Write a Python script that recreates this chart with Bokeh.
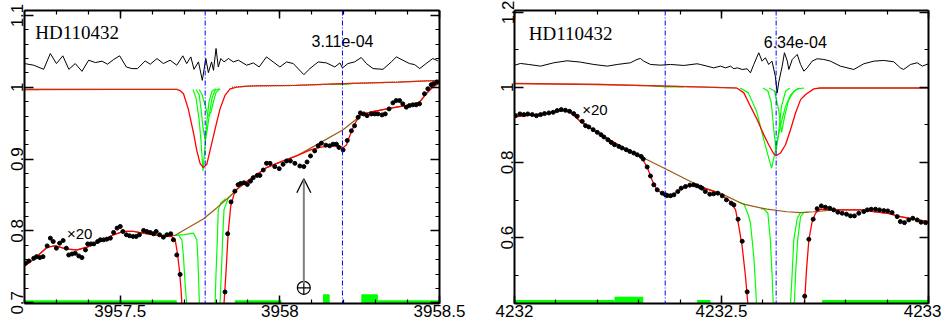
import numpy as np
from bokeh.plotting import figure
from bokeh.layouts import row
from bokeh.models import (Range1d, FixedTicker, LinearAxis, CustomJSTickFormatter,
                          Span, Arrow, OpenHead)
from bokeh.core.properties import value
from bokeh.embed import file_html
from bokeh.resources import INLINE

NAN = float("nan")

# ---------------- LEFT PANEL DATA (3957 A region) ----------------
L_xrange = (3957.2, 3958.5)
L_yrange = (0.699, 1.107)
L_xticks = [3957.5, 3958.0, 3958.5]
L_yticks = [0.7, 0.8, 0.9, 1.0, 1.1]
L_blue = [3957.766, 3958.196]

# residuals (black, top)
L_res_x = [3957.200, 3957.229, 3957.260, 3957.281, 3957.300, 3957.320, 3957.339, 3957.359, 3957.380, 3957.401,
           3957.422, 3957.443, 3957.460, 3957.479, 3957.498, 3957.519, 3957.536, 3957.554, 3957.578, 3957.594,
           3957.615, 3957.635, 3957.656, 3957.677, 3957.696, 3957.708, 3957.721, 3957.731, 3957.745, 3957.757,
           3957.768, 3957.776, 3957.786, 3957.792, 3957.800, 3957.807, 3957.815, 3957.825, 3957.839,
           3957.854, 3957.870, 3957.896, 3957.917, 3957.935, 3957.958, 3957.979, 3958.000, 3958.021, 3958.042,
           3958.057, 3958.075, 3958.094, 3958.120, 3958.146, 3958.172, 3958.188, 3958.196, 3958.213, 3958.234,
           3958.255, 3958.271, 3958.292, 3958.323, 3958.349, 3958.365, 3958.385, 3958.406, 3958.422, 3958.438,
           3958.458, 3958.479, 3958.495]
L_res_y = [1.0331, 1.0308, 1.0251, 1.0471, 1.0331, 1.0439, 1.0251, 1.0331, 1.0223, 1.0378,
           1.0345, 1.0364, 1.0322, 1.0387, 1.0439, 1.0284, 1.0261, 1.0261, 1.0368, 1.0322,
           1.0401, 1.0331, 1.0378, 1.0308, 1.0439, 1.0331, 1.0424, 1.0251, 1.0354, 1.0097,
           1.0401, 1.0205, 1.0354, 1.0237, 1.0541, 1.0284, 1.0401, 1.0354, 1.0401,
           1.0354, 1.0378, 1.0308, 1.0340, 1.0284, 1.0424, 1.0354, 1.0284, 1.0354, 1.0331,
           1.0261, 1.0177, 1.0261, 1.0354, 1.0340, 1.0284, 1.0340, 1.0270, 1.0331, 1.0354,
           1.0415, 1.0331, 1.0261, 1.0251, 1.0354, 1.0424, 1.0378, 1.0331, 1.0317, 1.0261,
           1.0331, 1.0401, 1.0368]

# upper model (red)
L_mod_x = [3957.200, 3957.500, 3957.677, 3957.6875, 3957.698, 3957.713, 3957.729, 3957.740, 3957.750, 3957.760,
           3957.771, 3957.781, 3957.797, 3957.8125, 3957.828, 3957.844, 3957.865, 3957.900, 3958.050, 3958.200,
           3958.370, 3958.500]
L_mod_y = [0.9970, 0.9972, 0.9973, 0.9955, 0.9910, 0.9700, 0.9373, 0.9115, 0.8942, 0.8882,
           0.8928, 0.9115, 0.9419, 0.9700, 0.9887, 0.9980, 1.0004, 1.0018, 1.0027, 1.0051,
           1.0074, 1.0097]
# upper continuum (brown dotted)
L_cont_top_x = [3957.200, 3957.500, 3957.680, NAN, 3957.850, 3957.900, 3958.050, 3958.200, 3958.370, 3958.500]
L_cont_top_y = [0.9970, 0.9972, 0.9973, NAN, 1.0001, 1.0018, 1.0027, 1.0051, 1.0074, 1.0097]

# upper components (green)
L_g1_x = [3957.728, 3957.7375, 3957.747, 3957.753, 3957.759, 3957.766, 3957.772, 3957.778, 3957.7875, 3957.800]
L_g1_y = [0.997, 0.985, 0.955, 0.925, 0.8835, 0.920, 0.955, 0.980, 0.995, 0.998]
L_g2_x = [3957.7375, 3957.747, 3957.753, 3957.759, 3957.766, 3957.772, 3957.780, 3957.7875, 3957.797, 3957.809]
L_g2_y = [0.997, 0.990, 0.970, 0.945, 0.926, 0.940, 0.965, 0.985, 0.996, 0.998]
L_g3_x = [3957.747, 3957.756, 3957.766, 3957.775, 3957.784, 3957.792, 3957.800, 3957.8125]
L_g3_y = [0.997, 0.990, 0.975, 0.960, 0.965, 0.980, 0.993, 0.998]
L_g4_x = [3958.160, 3958.200, 3958.230]
L_g4_y = [1.0045, 1.0040, 1.0055]

# x20 data points (black dots)
L_dot_x = [3957.203, 3957.2135, 3957.229, 3957.2375, 3957.248, 3957.258, 3957.271, 3957.281, 3957.290, 3957.300,
           3957.310, 3957.321, 3957.331, 3957.3385, 3957.349, 3957.359, 3957.370, 3957.380, 3957.391, 3957.398,
           3957.408, 3957.417, 3957.429, 3957.4375, 3957.448, 3957.458, 3957.469, 3957.479, 3957.490, 3957.500,
           3957.508, 3957.519, 3957.529, 3957.540, 3957.550, 3957.560, 3957.573, 3957.583, 3957.594, 3957.604,
           3957.6125, 3957.623, 3957.635, 3957.646, 3957.658, 3957.6665, 3957.677, 3957.6875,
           3957.828, 3957.8365, 3957.847, 3957.859, 3957.869, 3957.877, 3957.8875, 3957.898, 3957.908, 3957.9165,
           3957.929, 3957.9375, 3957.948, 3957.958, 3957.969, 3957.984, 3957.998, 3958.010, 3958.021, 3958.033,
           3958.047, 3958.0625, 3958.075, 3958.085, 3958.096, 3958.109, 3958.120, 3958.130, 3958.144, 3958.156,
           3958.1665, 3958.177, 3958.185, 3958.198, 3958.211, 3958.224, 3958.234, 3958.245, 3958.252, 3958.2625,
           3958.273, 3958.2865, 3958.297, 3958.307, 3958.320, 3958.330, 3958.342, 3958.354, 3958.3645, 3958.375,
           3958.385, 3958.396, 3958.406, 3958.4165, 3958.427, 3958.4375, 3958.453, 3958.4635, 3958.474, 3958.481,
           3958.4915]
L_dot_y = [0.7550, 0.7582, 0.7620, 0.7642, 0.7629, 0.7642, 0.7792, 0.7900, 0.7853, 0.7760,
           0.7830, 0.7867, 0.7760, 0.7666, 0.7680, 0.7690, 0.7652, 0.7629, 0.7736, 0.7820,
           0.7820, 0.7820, 0.7853, 0.7877, 0.7877, 0.7886, 0.7900, 0.7979, 0.8040, 0.8063,
           0.7993, 0.7947, 0.7933, 0.7923, 0.7923, 0.7947, 0.8007, 0.7993, 0.7979, 0.7961,
           0.7993, 0.7947, 0.7914, 0.7947, 0.7961, 0.7877, 0.7666, 0.7395,
           0.7151, 0.7961, 0.8405, 0.8554, 0.8644, 0.8662, 0.8671, 0.8648, 0.8694, 0.8742,
           0.8774, 0.8774, 0.8849, 0.8942, 0.8942, 0.8896, 0.8868, 0.8928, 0.8975, 0.8975,
           0.8942, 0.8905, 0.8896, 0.8961, 0.9045, 0.9115, 0.9185, 0.9223, 0.9195, 0.9185,
           0.9209, 0.9209, 0.9163, 0.9129, 0.9260, 0.9395, 0.9466, 0.9583, 0.9644, 0.9630,
           0.9606, 0.9630, 0.9630, 0.9630, 0.9616, 0.9630, 0.9700, 0.9784, 0.9816, 0.9816,
           0.9770, 0.9724, 0.9746, 0.9756, 0.9756, 0.9770, 0.9910, 0.9980, 1.0036, 1.0050,
           1.0074]

# x20 fit (red)
L_fit_x = [3957.200, 3957.229, 3957.271, 3957.297, 3957.333, 3957.365, 3957.396, 3957.4375, 3957.479, 3957.510,
           3957.542, 3957.583, 3957.625, 3957.661, 3957.672, 3957.679, 3957.6853, 3957.6906, 3957.6928, 3957.700,
           3957.815, 3957.825, 3957.831, 3957.838, 3957.846, 3957.859, 3957.875, 3957.906, 3957.958, 3958.010,
           3958.052, 3958.094, 3958.125, 3958.156, 3958.1875, 3958.198, 3958.209, 3958.219, 3958.234, 3958.250,
           3958.281, 3958.323, 3958.365, 3958.396, 3958.4375, 3958.458, 3958.479, 3958.500]
L_fit_y = [0.7512, 0.7606, 0.7774, 0.7792, 0.7746, 0.7736, 0.7774, 0.7853, 0.7947, 0.7993,
           0.7993, 0.7961, 0.7933, 0.7923, 0.7877, 0.7690, 0.7456, 0.7175, 0.6989, 0.5500,
           0.5500, 0.6990, 0.7410, 0.7970, 0.8344, 0.8554, 0.8624, 0.8718, 0.8882, 0.8975,
           0.9045, 0.9125, 0.9165, 0.9185, 0.9180, 0.9160, 0.9200, 0.9325, 0.9490, 0.9606,
           0.9653, 0.9690, 0.9724, 0.9746, 0.9794, 0.9910, 1.0004, 1.0060]

# x20 continuum (brown)
L_cont_x = [3957.200, 3957.229, 3957.271, 3957.297, 3957.333, 3957.365, 3957.396, 3957.4375, 3957.479, 3957.510,
            3957.542, 3957.583, 3957.625, 3957.672, 3957.719, 3957.760, 3957.802, 3957.844, 3957.865, 3957.906,
            3957.958, 3958.010, 3958.052, 3958.109, 3958.198, 3958.260, 3958.281, 3958.323, 3958.365, 3958.396,
            3958.4375, 3958.458, 3958.479, 3958.500]
L_cont_y = [0.7512, 0.7606, 0.7774, 0.7792, 0.7746, 0.7736, 0.7774, 0.7853, 0.7947, 0.7993,
            0.7993, 0.7961, 0.7940, 0.7940, 0.8063, 0.8167, 0.8321, 0.8484, 0.8578, 0.8718,
            0.8882, 0.8975, 0.9045, 0.9185, 0.9410, 0.9630, 0.9653, 0.9690, 0.9724, 0.9746,
            0.9794, 0.9910, 1.0004, 1.0060]

# x20 components (green)
L_gl1_x = [3957.682, 3957.693, 3957.698, 3957.703, 3957.708, 3957.712]
L_gl1_y = [0.7945, 0.7877, 0.7642, 0.7270, 0.6990, 0.6000]
L_gl2_x = [3957.672, 3957.700, 3957.729, 3957.7397, 3957.7428, 3957.7459, 3957.7478, 3957.750]
L_gl2_y = [0.7940, 0.7950, 0.7970, 0.7877, 0.7642, 0.7270, 0.6990, 0.6000]
L_gr1_x = [3957.794, 3957.797, 3957.800, 3957.804, 3957.807, 3957.815, 3957.830]
L_gr1_y = [0.6000, 0.6990, 0.7410, 0.7877, 0.8297, 0.8390, 0.8450]
L_gr2_x = [3957.810, 3957.8125, 3957.8166, 3957.821, 3957.825, 3957.8384, 3957.850]
L_gr2_y = [0.6000, 0.6990, 0.7410, 0.7923, 0.8297, 0.8460, 0.8510]

# masks (green bars at bottom)
L_mask_left = [3957.200, 3957.859, 3958.135, 3958.255, 3958.307]
L_mask_right = [3957.677, 3958.005, 3958.156, 3958.307, 3958.500]
L_mask_top = [0.7035, 0.7035, 0.7120, 0.7120, 0.7035]

# telluric arrow
L_arrow_x = 3958.075
L_arrow_y0 = 0.7269
L_arrow_y1 = 0.8728
L_earth_y = 0.7208

L_texts = ["HD110432", "3.11e-04", "\u00d720"]
L_text_x = [3957.234, 3958.099, 3957.333]
L_text_y = [1.0762, 1.0649, 0.7960]

# ---------------- RIGHT PANEL DATA (4232 A region) ----------------
R_xrange = (4232.0, 4233.0)
R_yrange = (0.425, 1.204)
R_xticks = [4232.0, 4232.5, 4233.0]
R_yticks = [0.6, 0.8, 1.0, 1.2]
R_blue = [4232.364, 4232.632]

R_res_x = [4232.001, 4232.0145, 4232.0346, 4232.0628, 4232.095, 4232.127, 4232.159, 4232.1916, 4232.224, 4232.248,
           4232.280, 4232.296, 4232.304, 4232.312, 4232.3285, 4232.353, 4232.377, 4232.409, 4232.441,
           4232.449, 4232.465, 4232.481, 4232.4976, 4232.510, 4232.522, 4232.530, 4232.538, 4232.550, 4232.562,
           4232.570, 4232.578, 4232.590, 4232.598, 4232.606, 4232.614, 4232.622, 4232.630, 4232.6345, 4232.638,
           4232.6466, 4232.652, 4232.659, 4232.6626, 4232.671, 4232.683, 4232.691, 4232.699, 4232.707, 4232.719,
           4232.731, 4232.747, 4232.763, 4232.787, 4232.8196, 4232.8437, 4232.868, 4232.892, 4232.916, 4232.932,
           4232.940, 4232.9565, 4232.9727, 4232.985, 4233.000]
R_res_y = [1.0587, 1.0632, 1.0605, 1.0561, 1.0650, 1.0703, 1.0668, 1.0605, 1.0561, 1.0605,
           1.0650, 1.0739, 1.0765, 1.0694, 1.0605, 1.0587, 1.0605, 1.0579, 1.0623,
           1.0605, 1.0561, 1.0516, 1.0561, 1.0516, 1.0561, 1.0490, 1.0516, 1.0472, 1.0490,
           1.0383, 1.0605, 1.0917, 1.0694, 1.0783, 1.0605, 1.0694, 1.0294, 0.9850, 1.0117,
           1.0561, 1.0917, 1.0694, 1.0472, 1.0739, 1.0872, 1.0605, 1.0427, 1.0516, 1.0694,
           1.0757, 1.0739, 1.0694, 1.0561, 1.0472, 1.0623, 1.0694, 1.0712, 1.0677, 1.0516,
           1.0472, 1.0605, 1.0650, 1.0561, 1.0623]

R_mod_x = [4232.000, 4232.208, 4232.369, 4232.529, 4232.538, 4232.554, 4232.570, 4232.586, 4232.602, 4232.614,
           4232.626, 4232.632, 4232.6425, 4232.6546, 4232.6667, 4232.679, 4232.691, 4232.703, 4232.723, 4232.739,
           4233.000]
R_mod_y = [1.0099, 1.0072, 1.0027, 0.9985, 0.9975, 0.9850, 0.9490, 0.9140, 0.8740, 0.8470,
           0.8230, 0.8180, 0.8250, 0.8470, 0.8870, 0.9320, 0.9670, 0.9805, 0.9957, 0.9980,
           0.9980]
R_cont_top_x = [4232.000, 4232.208, 4232.369, 4232.535, NAN, 4232.735, 4233.000]
R_cont_top_y = [1.0099, 1.0072, 1.0027, 0.9980, NAN, 0.9980, 0.9980]

R_g1_x = [4232.545, 4232.565, 4232.585, 4232.600, 4232.612, 4232.621, 4232.630, 4232.642, 4232.6546, 4232.667, 4232.683, 4232.700]
R_g1_y = [0.998, 0.985, 0.935, 0.870, 0.820, 0.785, 0.830, 0.896, 0.949, 0.980, 0.9957, 0.998]
R_g2_x = [4232.600, 4232.612, 4232.620, 4232.627, 4232.632, 4232.638, 4232.645, 4232.655, 4232.665]
R_g2_y = [0.998, 0.990, 0.960, 0.880, 0.830, 0.880, 0.950, 0.990, 0.998]
R_g3_x = [4232.615, 4232.628, 4232.638, 4232.645, 4232.653, 4232.662, 4232.675, 4232.690]
R_g3_y = [0.998, 0.990, 0.940, 0.880, 0.925, 0.965, 0.990, 0.998]
R_g4_x = [4232.333, 4232.370, 4232.408]
R_g4_y = [1.0035, 1.0010, 1.0010]

R_dot_x = [4232.0024, 4232.013, 4232.0225, 4232.032, 4232.043, 4232.053, 4232.063, 4232.0725, 4232.083, 4232.0935,
           4232.103, 4232.113, 4232.123, 4232.133, 4232.143, 4232.1515, 4232.1635, 4232.1715, 4232.1795, 4232.190,
           4232.200, 4232.209, 4232.216, 4232.2255, 4232.2335, 4232.2415, 4232.252, 4232.260, 4232.270, 4232.2785,
           4232.288, 4232.2965, 4232.306, 4232.311, 4232.3205, 4232.3285, 4232.3365, 4232.3447, 4232.357, 4232.3647,
           4232.369, 4232.377, 4232.385, 4232.3945, 4232.4027, 4232.413, 4232.4234, 4232.433, 4232.441, 4232.449,
           4232.453, 4232.461, 4232.4717, 4232.481, 4232.491, 4232.5017, 4232.512, 4232.5234, 4232.530, 4232.540,
           4232.550, 4232.562, 4232.701, 4232.711, 4232.7215, 4232.731, 4232.741, 4232.751, 4232.7616, 4232.771,
           4232.781, 4232.7915, 4232.802, 4232.8116, 4232.821, 4232.8316, 4232.8437, 4232.852, 4232.8616, 4232.872,
           4232.8816, 4232.892, 4232.9017, 4232.912, 4232.9244, 4232.932, 4232.942, 4232.9524, 4232.962, 4232.9727,
           4232.982, 4232.993]
R_dot_y = [0.9245, 0.9290, 0.9272, 0.9290, 0.9272, 0.9245, 0.9272, 0.9299, 0.9317, 0.9333,
           0.9379, 0.9405, 0.9387, 0.9360, 0.9299, 0.9227, 0.9093, 0.8979, 0.8944, 0.8872,
           0.8800, 0.8739, 0.8677, 0.8605, 0.8533, 0.8472, 0.8427, 0.8384, 0.8339, 0.8293,
           0.8251, 0.8205, 0.8160, 0.8091, 0.7880, 0.7640, 0.7405, 0.7272, 0.7184, 0.7139,
           0.7120, 0.7115, 0.7139, 0.7227, 0.7317, 0.7360, 0.7397, 0.7405, 0.7379, 0.7344,
           0.7317, 0.7227, 0.7157, 0.7165, 0.7184, 0.7112, 0.7005, 0.6917, 0.6872, 0.6491,
           0.5905, 0.4560, 0.4445, 0.5957, 0.6491, 0.6770, 0.6845, 0.6810, 0.6784, 0.6739,
           0.6677, 0.6650, 0.6624, 0.6579, 0.6579, 0.6650, 0.6693, 0.6739, 0.6757, 0.6757,
           0.6739, 0.6720, 0.6712, 0.6667, 0.6560, 0.6427, 0.6400, 0.6472, 0.6517, 0.6472,
           0.6411, 0.6400]

R_fit_x = [4232.000, 4232.054, 4232.080, 4232.103, 4232.118, 4232.135, 4232.159, 4232.215, 4232.272, 4232.296,
           4232.306, 4232.3205, 4232.3285, 4232.3365, 4232.3447, 4232.357, 4232.369, 4232.381, 4232.394, 4232.405,
           4232.420, 4232.433, 4232.449, 4232.4896, 4232.5217, 4232.534, 4232.542, 4232.550, 4232.558, 4232.5636,
           4232.570, 4232.690, 4232.7005, 4232.7053, 4232.711, 4232.719, 4232.727, 4232.739, 4232.771, 4232.836,
           4232.868, 4232.900, 4232.932, 4232.9645, 4233.000]
R_fit_y = [0.9210, 0.9272, 0.9310, 0.9360, 0.9385, 0.9330, 0.9093, 0.8693, 0.8339, 0.8200,
           0.8150, 0.7880, 0.7640, 0.7420, 0.7272, 0.7170, 0.7125, 0.7140, 0.7220, 0.7310,
           0.7375, 0.7390, 0.7350, 0.7200, 0.6960, 0.6740, 0.6290, 0.5760, 0.4960, 0.4250,
           0.3000, 0.3000, 0.4250, 0.5140, 0.5940, 0.6430, 0.6650, 0.6760, 0.6739, 0.6739,
           0.6693, 0.6650, 0.6560, 0.6490, 0.6427]

R_cont_x = [4232.000, 4232.054, 4232.080, 4232.103, 4232.118, 4232.135, 4232.159, 4232.215, 4232.272, 4232.369,
            4232.449, 4232.497, 4232.553, 4232.610, 4232.658, 4232.691, 4232.723, 4232.771, 4232.836, 4232.868,
            4232.900, 4232.932, 4232.9645, 4233.000]
R_cont_y = [0.9210, 0.9272, 0.9310, 0.9360, 0.9385, 0.9330, 0.9093, 0.8693, 0.8339, 0.7805,
            0.7360, 0.7184, 0.6890, 0.6757, 0.6690, 0.6667, 0.6690, 0.6739, 0.6739, 0.6693,
            0.6650, 0.6560, 0.6490, 0.6427]

R_gla_x = [4232.540, 4232.554, 4232.565, 4232.570, 4232.578, 4232.582, 4232.5845, 4232.587]
R_gla_y = [0.6950, 0.6900, 0.6600, 0.6384, 0.5490, 0.4780, 0.4250, 0.3000]
R_glb_x = [4232.595, 4232.602, 4232.612, 4232.618, 4232.622, 4232.625, 4232.627]
R_glb_y = [0.6770, 0.6760, 0.6650, 0.5940, 0.5050, 0.4250, 0.3000]
R_grc_x = [4232.664, 4232.6667, 4232.6707, 4232.6746, 4232.683, 4232.691, 4232.700]
R_grc_y = [0.3000, 0.4250, 0.5050, 0.5940, 0.6520, 0.6670, 0.6670]
R_grd_x = [4232.674, 4232.676, 4232.679, 4232.684, 4232.691, 4232.699, 4232.710]
R_grd_y = [0.3000, 0.4250, 0.5050, 0.5940, 0.6560, 0.6670, 0.6680]

R_mask_left = [4232.000, 4232.2415, 4232.441, 4232.743]
R_mask_right = [4232.2415, 4232.311, 4232.4734, 4233.000]
R_mask_top = [0.4340, 0.4430, 0.4340, 0.4340]

R_texts = ["HD110432", "6.34e-04", "\u00d720"]
R_text_x = [4232.0346, 4232.602, 4232.1635]
R_text_y = [1.1424, 1.1210, 0.9405]

# ---------------- styling helpers ----------------
RED = "#ff0000"
GREEN = "#00ff00"
BROWN = "#9a5a10"
BLUE = "#0000ff"
SANS = "Liberation Sans"
SERIF = "Liberation Serif"

fmt = CustomJSTickFormatter(code="return String(Math.round(tick*1000)/1000);")


def blank():
    return CustomJSTickFormatter(code="return '';")


def style_axis(ax, ticker, labels, tick_major, tick_minor, orient=None):
    ax.ticker = ticker
    ax.axis_line_width = 2
    ax.axis_line_color = "black"
    ax.major_tick_in = tick_major
    ax.major_tick_out = 0
    ax.minor_tick_in = tick_minor
    ax.minor_tick_out = 0
    ax.major_tick_line_width = 1.5
    ax.minor_tick_line_width = 1.2
    if labels:
        ax.formatter = fmt
        ax.major_label_text_font = SANS
        ax.major_label_text_font_size = "17px"
        ax.major_label_text_color = "black"
        ax.major_label_standoff = 1
        if orient:
            ax.major_label_orientation = orient
    else:
        ax.formatter = blank()
        ax.major_label_text_font_size = "0px"
        ax.major_label_standoff = 0


def make_panel(xr, yr, xt, xminor, yt, yminor, fw, bl, br, ymaj_len, ymin_len):
    p = figure(x_range=Range1d(*xr), y_range=Range1d(*yr), frame_width=fw, frame_height=293,
               min_border_left=bl, min_border_right=br, min_border_top=10, min_border_bottom=0,
               output_backend="svg", toolbar_location=None)
    p.xgrid.visible = False
    p.ygrid.visible = False
    p.outline_line_color = None
    p.background_fill_color = "white"
    p.border_fill_color = "white"
    xtk = FixedTicker(ticks=xt, minor_ticks=xminor)
    ytk = FixedTicker(ticks=yt, minor_ticks=yminor)
    style_axis(p.xaxis[0], xtk, True, 8, 4)
    style_axis(p.yaxis[0], ytk, True, ymaj_len, ymin_len, "parallel")
    top = LinearAxis()
    style_axis(top, xtk, False, 8, 4)
    right = LinearAxis()
    style_axis(right, ytk, False, ymaj_len, ymin_len)
    p.add_layout(top, "above")
    p.add_layout(right, "right")
    return p


def draw_common(p, blue, res_x, res_y, mod_x, mod_y, ct_x, ct_y, greens_top,
                dot_x, dot_y, fit_x, fit_y, c_x, c_y, greens_low,
                m_l, m_r, m_t, ybot, texts, tx, ty):
    for b in blue:
        p.add_layout(Span(location=b, dimension="height", line_color=BLUE,
                          line_width=1, line_dash="5 2 1 2"))
    p.quad(left=m_l, right=m_r, bottom=[ybot] * len(m_l), top=m_t,
           fill_color=GREEN, line_color=None)
    p.line(res_x, res_y, line_color="black", line_width=1)
    for gx, gy in greens_top:
        p.line(gx, gy, line_color=GREEN, line_width=1.2)
    p.line(mod_x, mod_y, line_color=RED, line_width=1.3)
    p.line(ct_x, ct_y, line_color=BROWN, line_width=1.3, line_dash="1 1")
    for gx, gy in greens_low:
        p.line(gx, gy, line_color=GREEN, line_width=1.2)
    p.line(c_x, c_y, line_color=BROWN, line_width=1.2)
    p.line(fit_x, fit_y, line_color=RED, line_width=1.3)
    p.scatter(dot_x, dot_y, size=4, color="black")
    p.text(x=tx[:1], y=ty[:1], text=texts[:1], text_font=value(SERIF),
           text_font_size="19px", text_baseline="alphabetic", text_color="black")
    p.text(x=tx[1:2], y=ty[1:2], text=texts[1:2], text_font=value(SANS),
           text_font_size="16px", text_baseline="alphabetic", text_color="black")
    p.text(x=tx[2:], y=ty[2:], text=texts[2:], text_font=value(SANS),
           text_font_size="15px", text_baseline="alphabetic", text_color="black")


L_xminor = [round(3957.2 + 0.1 * i, 1) for i in range(14)]
L_yminor = [round(0.70 + 0.02 * i, 2) for i in range(21)]
R_xminor = [round(4232.0 + 0.1 * i, 1) for i in range(11)]
R_yminor = [0.5, 0.7, 0.9, 1.1]

p1 = make_panel(L_xrange, L_yrange, L_xticks, L_xminor, L_yticks, L_yminor, 415, 24, 31, 9, 4)
draw_common(p1, L_blue, L_res_x, L_res_y, L_mod_x, L_mod_y, L_cont_top_x, L_cont_top_y,
            [(L_g1_x, L_g1_y), (L_g2_x, L_g2_y), (L_g3_x, L_g3_y), (L_g4_x, L_g4_y)],
            L_dot_x, L_dot_y, L_fit_x, L_fit_y, L_cont_x, L_cont_y,
            [(L_gl1_x, L_gl1_y), (L_gl2_x, L_gl2_y), (L_gr1_x, L_gr1_y), (L_gr2_x, L_gr2_y)],
            L_mask_left, L_mask_right, L_mask_top, 0.69, L_texts, L_text_x, L_text_y)
p1.add_layout(Arrow(end=OpenHead(size=14, line_color="black", line_width=1.3),
                    x_start=L_arrow_x, y_start=L_arrow_y0, x_end=L_arrow_x, y_end=L_arrow_y1,
                    line_color="#7f7f7f", line_width=2))
p1.scatter([L_arrow_x], [L_earth_y], marker="circle_cross", size=13, fill_color=None,
           line_color="black", line_width=1.2)

p2 = make_panel(R_xrange, R_yrange, R_xticks, R_xminor, R_yticks, R_yminor, 414, 44, 13, 9, 4)
draw_common(p2, R_blue, R_res_x, R_res_y, R_mod_x, R_mod_y, R_cont_top_x, R_cont_top_y,
            [(R_g1_x, R_g1_y), (R_g2_x, R_g2_y), (R_g3_x, R_g3_y), (R_g4_x, R_g4_y)],
            R_dot_x, R_dot_y, R_fit_x, R_fit_y, R_cont_x, R_cont_y,
            [(R_gla_x, R_gla_y), (R_glb_x, R_glb_y), (R_grc_x, R_grc_y), (R_grd_x, R_grd_y)],
            R_mask_left, R_mask_right, R_mask_top, 0.40, R_texts, R_text_x, R_text_y)

layout = row(p1, p2)
open("out.html", "w").write(file_html(layout, INLINE))
